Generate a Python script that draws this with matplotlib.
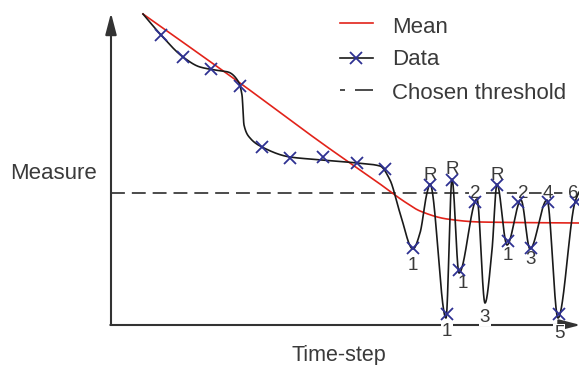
import numpy as np
import matplotlib
matplotlib.use("Agg")
import matplotlib.pyplot as plt

plt.rcParams['font.family'] = ['Liberation Sans', 'DejaVu Sans']
plt.rcParams['lines.scale_dashes'] = False

# ---- data (arbitrary schematic units: time-step, measure) ----
data_t = [5.0, 7.2, 10.0, 12.9, 15.1, 17.9, 21.2, 24.6, 27.4, 30.2, 31.9,
          33.6, 34.1, 34.8, 36.4, 38.6, 39.7, 40.7, 42.0, 43.7, 44.8, 46.5]
data_m = [29.0, 26.8, 25.6, 23.9, 17.8, 16.7, 16.8, 16.2, 15.6, 7.7, 14.0,
          1.1, 14.5, 5.5, 12.3, 14.0, 8.4, 12.3, 7.7, 12.3, 1.1, 12.3]

# shape of the measured signal (smooth curve through these knots)
curve_t = [3.2, 5.0, 7.2, 8.9, 10.4, 11.7, 12.7, 13.1, 13.3, 13.9, 15.1,
           17.9, 21.2, 24.6, 26.9, 27.9, 28.9, 30.2, 30.9, 31.6, 31.9,
           33.5, 34.1, 34.8, 36.6, 37.4, 38.1, 38.6, 39.6, 41.0, 41.9,
           43.6, 44.7, 46.4, 46.9]
curve_m = [31.1, 29.0, 26.8, 25.8, 25.5, 25.3, 24.4, 23.0, 20.0, 18.7, 17.8,
           16.8, 16.5, 16.2, 15.9, 14.5, 11.2, 7.6, 9.2, 13.2, 14.1,
           0.7, 14.6, 5.2, 12.6, 2.2, 7.5, 14.1, 8.0, 12.5, 7.6,
           12.5, 0.7, 12.3, 13.5]

# running mean
mean_t = [3.2, 12.9, 21.2, 26.9, 29.4, 30.9, 33.6, 36.9, 46.8]
mean_m = [31.1, 24.2, 18.1, 14.1, 12.3, 11.4, 10.6, 10.3, 10.2]

threshold = 13.2

# annotations of the low / high segments
ann_text = ["1", "R", "1", "R", "1", "2", "3", "R", "1", "2", "3", "4", "5", "6"]
ann_t = [30.2, 31.9, 33.6, 34.1, 35.2, 36.4, 37.4, 38.6, 39.7, 41.2, 42.0, 43.7, 44.8, 46.25]
ann_m = [5.55, 14.55, -1.15, 15.15, 3.65, 12.65, 0.35, 14.55, 6.55, 12.65, 6.05, 12.65, -1.25, 12.65]


def pchip(x, y, xs):
    x = np.asarray(x, float)
    y = np.asarray(y, float)
    h = np.diff(x)
    delta = np.diff(y) / h
    n = len(x)
    d = np.zeros(n)
    for k in range(1, n - 1):
        if delta[k - 1] * delta[k] <= 0:
            d[k] = 0.0
        else:
            w1 = 2 * h[k] + h[k - 1]
            w2 = h[k] + 2 * h[k - 1]
            d[k] = (w1 + w2) / (w1 / delta[k - 1] + w2 / delta[k])
    d[0] = delta[0]
    d[-1] = delta[-1]
    idx = np.clip(np.searchsorted(x, xs) - 1, 0, n - 2)
    hh = h[idx]
    t = (xs - x[idx]) / hh
    h00 = 2 * t**3 - 3 * t**2 + 1
    h10 = t**3 - 2 * t**2 + t
    h01 = -2 * t**3 + 3 * t**2
    h11 = t**3 - t**2
    return h00 * y[idx] + h10 * hh * d[idx] + h01 * y[idx + 1] + h11 * hh * d[idx + 1]


fig = plt.figure(figsize=(5.79, 3.65), dpi=100)
ax = fig.add_axes([0, 0, 1, 1])
ax.set_xlim(-11.1, 46.8)
ax.set_ylim(-4.0, 32.5)
ax.axis('off')

axis_col = '#333333'
text_col = '#3a3a3a'
red = '#e2231a'
blue = '#2e3192'
black = '#1a1a1a'

arrow = dict(arrowstyle='-|>,head_length=0.65,head_width=0.17',
             color=axis_col, lw=1.5, mutation_scale=20, shrinkA=0, shrinkB=0)
# axes with arrows
ax.annotate('', xy=(0, 31.2), xytext=(0, 0), arrowprops=arrow,
            annotation_clip=False, zorder=1.5)
ax.annotate('', xy=(46.95, 0), xytext=(-0.07, 0), arrowprops=arrow,
            annotation_clip=False, zorder=1.5)

# threshold
ax.plot([0, 46.8], [threshold, threshold], color=black, lw=1.1,
        dashes=(10, 5), zorder=1)

# labels on the data
for s, tx, my in zip(ann_text, ann_t, ann_m):
    ax.text(tx, my, s, ha='center', va='baseline', fontsize=13.5, color=text_col,
            zorder=2, bbox=dict(facecolor='white', edgecolor='none', pad=0.5))

# mean
ts = np.linspace(mean_t[0], mean_t[-1], 800)
ax.plot(ts, pchip(mean_t, mean_m, ts), color=red, lw=1.2, zorder=3)

# measured signal
tc = np.linspace(curve_t[0], curve_t[-1], 3000)
ax.plot(tc, pchip(curve_t, curve_m, tc), color=black, lw=1.2, zorder=3)
ax.plot(data_t, data_m, linestyle='none', marker='x', markersize=8.6,
        markeredgewidth=1.3, color=blue, zorder=5)

# axis titles
ax.text(-10.1, 14.6, 'Measure', ha='left', va='baseline', fontsize=16, color=text_col)
ax.text(22.8, -3.55, 'Time-step', ha='center', va='baseline', fontsize=15.5, color=text_col)

# legend
lx0, lx1 = 22.9, 26.2
ax.plot([lx0, lx1], [30.2, 30.2], color=red, lw=1.2)
ax.plot([lx0, lx1], [26.7, 26.7], color=black, lw=1.2)
ax.plot([(lx0 + lx1) / 2], [26.7], marker='x', markersize=8.6,
        markeredgewidth=1.3, color=blue)
ax.plot([lx0, lx1], [23.5, 23.5], color=black, lw=1.1, dashes=(3.6, 7.2, 13.0, 5))
ax.text(28.1, 29.2, 'Mean', ha='left', va='baseline', fontsize=16, color=text_col)
ax.text(28.1, 26.0, 'Data', ha='left', va='baseline', fontsize=16, color=text_col)
ax.text(28.1, 22.6, 'Chosen threshold', ha='left', va='baseline', fontsize=16, color=text_col)

fig.savefig('out.png', dpi=100)
